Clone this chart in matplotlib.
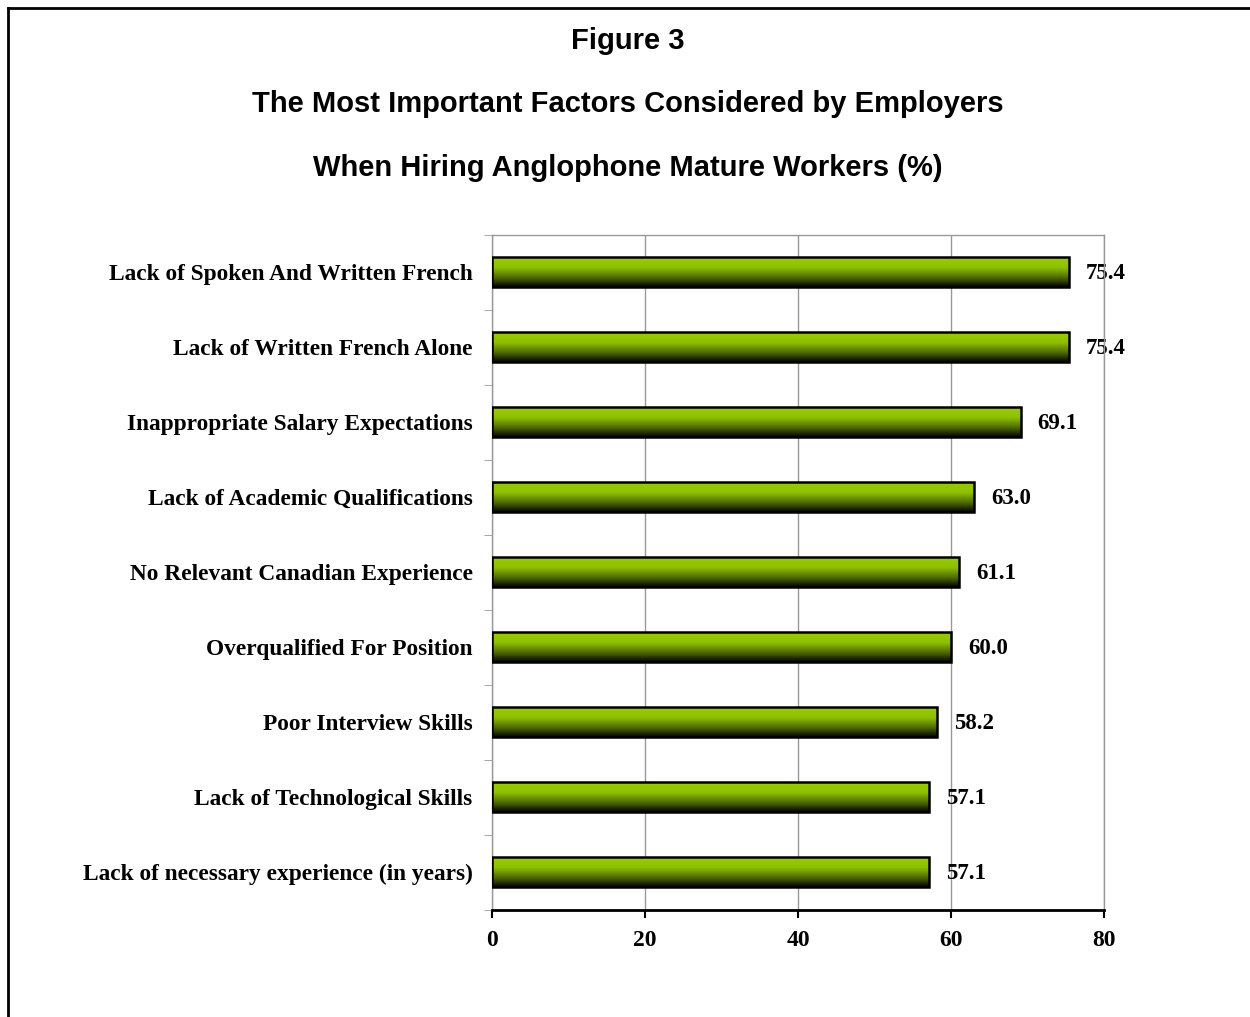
import numpy as np
import matplotlib
matplotlib.use("Agg")
import matplotlib.pyplot as plt
from matplotlib.colors import LinearSegmentedColormap
from matplotlib.lines import Line2D

categories = [
    "Lack of Spoken And Written French",
    "Lack of Written French Alone",
    "Inappropriate Salary Expectations",
    "Lack of Academic Qualifications",
    "No Relevant Canadian Experience",
    "Overqualified For Position",
    "Poor Interview Skills",
    "Lack of Technological Skills",
    "Lack of necessary experience (in years)",
]
values = [75.4, 75.4, 69.1, 63.0, 61.1, 60.0, 58.2, 57.1, 57.1]
value_labels = ["75.4", "75.4", "69.1", "63.0", "61.1", "60.0", "58.2", "57.1", "57.1"]
xticks = [0, 20, 40, 60, 80]
title_lines = ["Figure 3",
               "The Most Important Factors Considered by Employers",
               "When Hiring Anglophone Mature Workers (%)"]

fig = plt.figure(figsize=(12.5, 10.17), dpi=100)
fig.patch.set_facecolor("white")

# frame lines (left and top)
fig.add_artist(Line2D([8/1250, 8/1250], [0, 1 - 8/1017], transform=fig.transFigure, color="black", lw=2))
fig.add_artist(Line2D([8/1250, 1], [1 - 8/1017, 1 - 8/1017], transform=fig.transFigure, color="black", lw=2))

# titles
ys = [41, 104, 168]
for t, y in zip(title_lines, ys):
    fig.text(628/1250, 1 - y/1017, t, ha="center", va="center",
             fontsize=21, fontweight="bold", family="Liberation Sans")

ax = fig.add_axes([492/1250, 1 - 909.5/1017, (1104-492)/1250, (909.5-234.5)/1017])
n = len(categories)
pos = np.arange(n)
bars = ax.barh(pos, values, height=0.4, color="none", edgecolor="black", lw=1.8, zorder=3)

cmap = LinearSegmentedColormap.from_list("g", [(0, "#99CC00"), (0.35, "#8FC000"), (0.7, "#4A6600"), (1, "#000000")])
grad = np.linspace(0, 1, 256).reshape(-1, 1)
for b in bars:
    x0, y0, w, h = b.get_x(), b.get_y(), b.get_width(), b.get_height()
    im = ax.imshow(grad, cmap=cmap, aspect="auto", extent=(x0, x0 + w, y0 + h, y0),
                   origin="upper", zorder=2.5)
    im.set_clip_path(b)
ax.set_xlim(0, 80)
ax.set_ylim(n - 0.5, -0.5)

for p, v, lab in zip(pos, values, value_labels):
    ax.text(v + 2.2, p + 0.02, lab, va="center", ha="left", fontsize=16.5, fontweight="bold",
            family="Liberation Serif", zorder=1)

ax.set_xticks(xticks)
ax.set_xticklabels([str(x) for x in xticks], fontsize=17, fontweight="bold", family="Liberation Serif")
ax.xaxis.grid(True, color="#999999", lw=1, zorder=0)
ax.set_axisbelow(True)
ax.tick_params(axis="x", direction="out", length=6, width=1.5, color="black", pad=9)

ax.set_yticks(pos)
ax.set_yticklabels(categories, fontsize=16.8, fontweight="bold", family="Liberation Serif")
ax.set_yticks(np.arange(-0.5, n, 1), minor=True)
ax.tick_params(axis="y", which="major", length=0, pad=14)
ax.tick_params(axis="y", which="minor", length=6, color="#999999", direction="out")

for s in ["left", "top", "right"]:
    ax.spines[s].set_color("#999999")
    ax.spines[s].set_linewidth(1)
ax.spines["bottom"].set_color("black")
ax.spines["bottom"].set_linewidth(2)

fig.savefig("out.png", dpi=100, facecolor="white")
